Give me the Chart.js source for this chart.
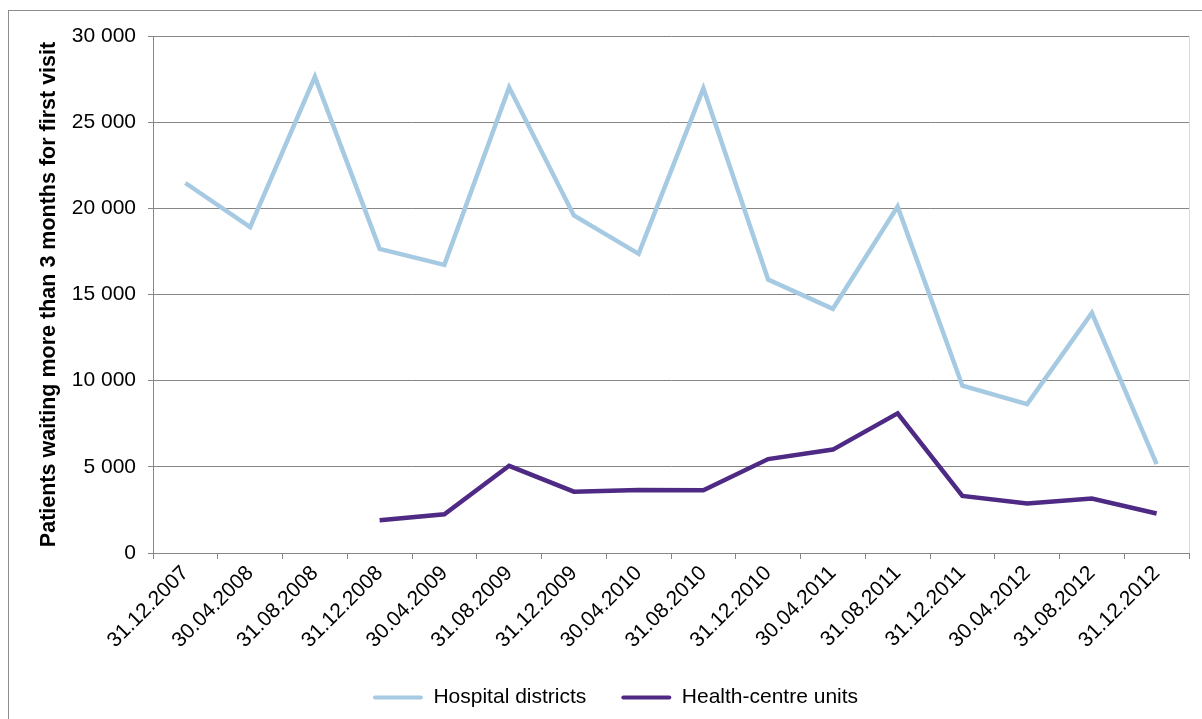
<!DOCTYPE html>
<html>
<head>
<meta charset="utf-8">
<script src="https://cdn.jsdelivr.net/npm/chart.js@4"></script>
<style>
  html, body { margin: 0; padding: 0; background: #ffffff; }
  #wrap { position: relative; width: 1202px; height: 719px; }
  canvas { display: block; }
</style>
</head>
<body>
<div id="wrap"><canvas id="c" width="1202" height="719"></canvas></div>
<script>
const categories = ['31.12.2007','30.04.2008','31.08.2008','31.12.2008','30.04.2009','31.08.2009','31.12.2009','30.04.2010','31.08.2010','31.12.2010','30.04.2011','31.08.2011','31.12.2011','30.04.2012','31.08.2012','31.12.2012'];
const hospitalDistricts = [21470, 18910, 27630, 17650, 16720, 27020, 19590, 17360, 26960, 15870, 14170, 20100, 9710, 8640, 13930, 5160];
const healthCentreUnits = [null, null, null, 1900, 2250, 5060, 3560, 3660, 3640, 5450, 6000, 8100, 3310, 2870, 3160, 2290];
const yTicks = [0, 5000, 10000, 15000, 20000, 25000, 30000];
const yTitle = 'Patients waiting more than 3 months for first visit';

const FONT = 'Liberation Sans, Arial, sans-serif';
const GRID = '#868686';
const LEGEND_SHIFT = 21;

const framePlugin = {
  id: 'frame',
  afterLayout(chart) {
    if (chart.legend) {
      chart.legend.left += LEGEND_SHIFT;
      chart.legend.right += LEGEND_SHIFT;
    }
  },
  beforeDraw(chart) {
    const ctx = chart.ctx;
    ctx.save();
    ctx.strokeStyle = '#8c8c8c';
    ctx.lineWidth = 1;
    ctx.strokeRect(8.5, 10.5, 1400, 900);
    ctx.restore();
  },
  afterDraw(chart) {
    const a = chart.chartArea;
    const ctx = chart.ctx;
    ctx.save();
    ctx.strokeStyle = '#d9d9d9';
    ctx.lineWidth = 1;
    ctx.beginPath();
    ctx.moveTo(Math.round(a.right) + 0.5, a.top);
    ctx.lineTo(Math.round(a.right) + 0.5, a.bottom);
    ctx.stroke();
    ctx.restore();
  }
};

new Chart(document.getElementById('c'), {
  type: 'line',
  data: {
    labels: categories,
    datasets: [
      { label: 'Hospital districts', data: hospitalDistricts, borderColor: '#a7cae3', backgroundColor: '#a7cae3', borderWidth: 4.5, pointRadius: 0, tension: 0, spanGaps: false },
      { label: 'Health-centre units', data: healthCentreUnits, borderColor: '#4e2a84', backgroundColor: '#4e2a84', borderWidth: 4.5, pointRadius: 0, tension: 0, spanGaps: false }
    ]
  },
  options: {
    responsive: false,
    animation: false,
    devicePixelRatio: 1,
    layout: { padding: { left: 0, right: 13, top: 36, bottom: 1 } },
    plugins: {
      tooltip: { enabled: false },
      legend: {
        position: 'bottom',
        labels: {
          font: { family: FONT, size: 21 },
          color: '#000000',
          boxWidth: 50,
          boxHeight: 4,
          padding: 35,
          generateLabels(chart) {
            return chart.data.datasets.map((d, i) => ({
              text: d.label, fillStyle: d.borderColor, strokeStyle: d.borderColor,
              lineWidth: 0, hidden: false, datasetIndex: i, borderRadius: 2, fontColor: '#000000'
            }));
          }
        }
      }
    },
    scales: {
      x: {
        offset: true,
        grid: { display: true, drawOnChartArea: false, drawTicks: true, tickLength: 6, color: GRID, offset: true },
        border: { display: true, color: GRID, width: 1 },
        ticks: { font: { family: FONT, size: 21 }, color: '#000000', maxRotation: 45, minRotation: 45, autoSkip: false, padding: 2 },
        afterFit(s) { s.height = 99; }
      },
      y: {
        min: 0, max: 30000,
        afterBuildTicks(s) { s.ticks = yTicks.map(v => ({ value: v })); },
        grid: { color: GRID, lineWidth: 1, drawTicks: true, tickLength: 5 },
        border: { display: true, color: GRID, width: 1 },
        ticks: {
          font: { family: FONT, size: 21 }, color: '#000000', padding: 12,
          callback(v) { return v === 0 ? '0' : String(v).replace(/\B(?=(\d{3})+(?!\d))/g, ' '); }
        },
        title: { display: true, text: yTitle, font: { family: FONT, size: 21.5, weight: 'bold' }, color: '#000000', padding: { top: 36, bottom: 0 } },
        afterFit(s) { s.width = 153; }
      }
    }
  },
  plugins: [framePlugin]
});
</script>
</body>
</html>
